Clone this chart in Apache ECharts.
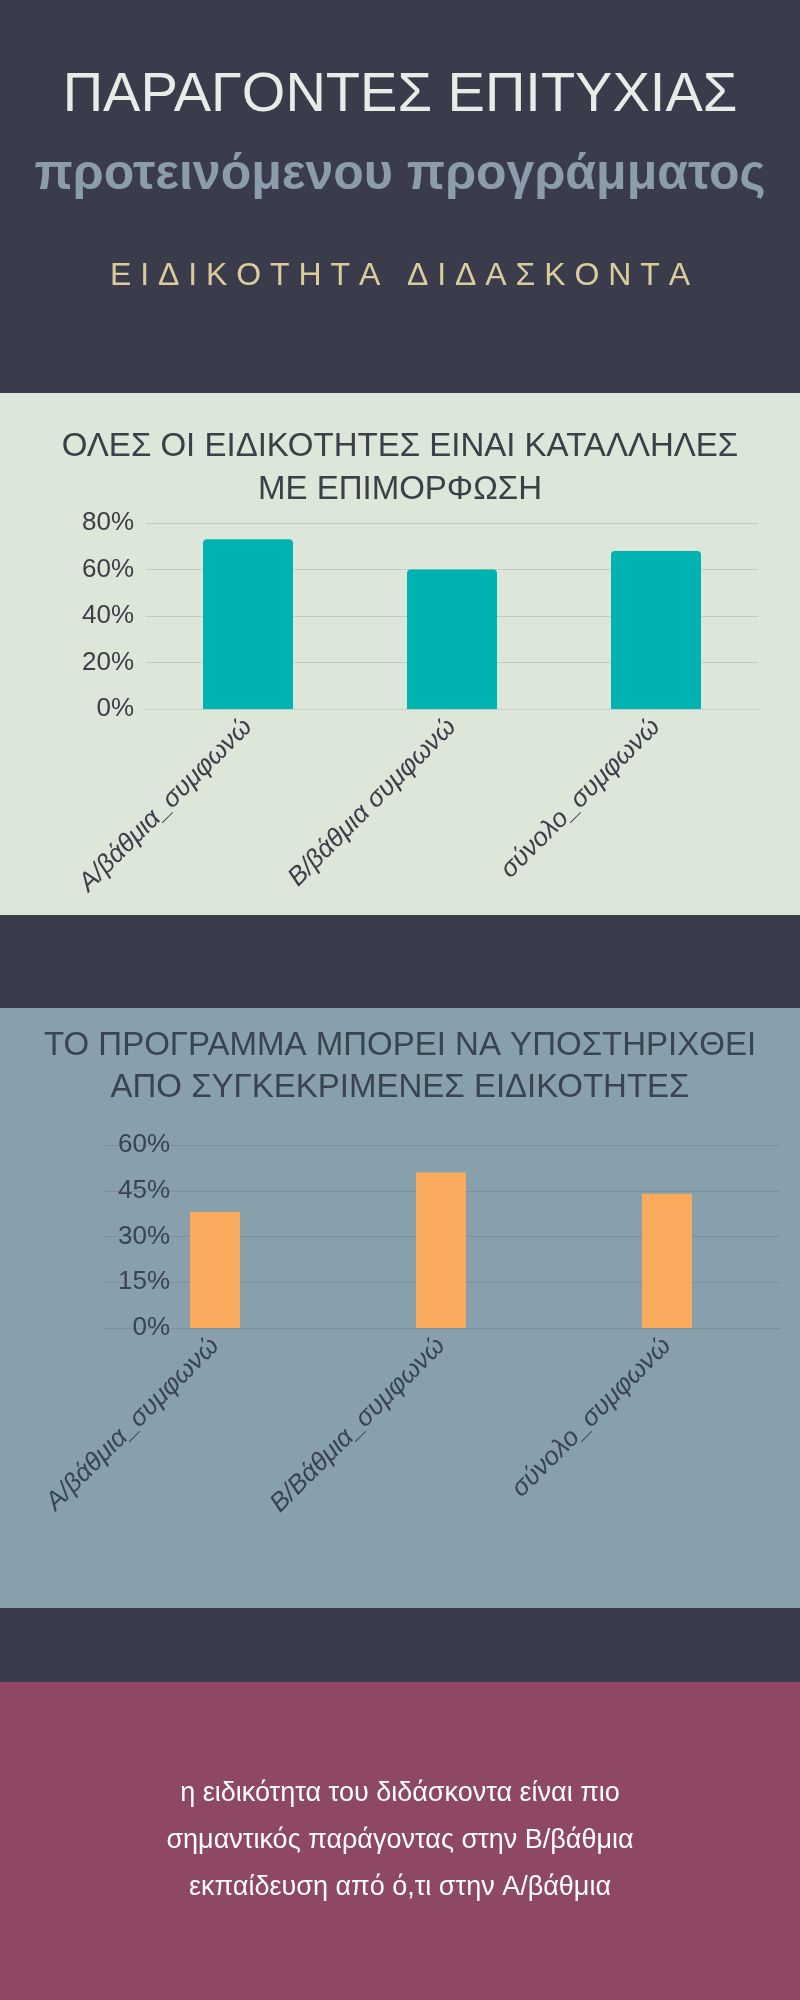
<!DOCTYPE html>
<html>
<head>
<meta charset="utf-8">
<script src="https://cdn.jsdelivr.net/npm/echarts@6/dist/echarts.min.js"></script>
<style>
  html, body { margin: 0; padding: 0; background: #3a3c4c; }
  #main { width: 800px; height: 2000px; }
</style>
</head>
<body>
<div id="main"></div>
<script>
const categories1 = ['Α/βάθμια_συμφωνώ', 'Β/βάθμια συμφωνώ', 'σύνολο_συμφωνώ']
const values1 = [73, 60, 68]
const categories2 = ['Α/βάθμια_συμφωνώ', 'Β/Βάθμια_συμφωνώ', 'σύνολο_συμφωνώ']
const values2 = [38, 51, 44]

const font = 'Liberation Sans, Arial, sans-serif'
const myChart = echarts.init(document.getElementById('main'))

const axisLabelStyle = {
    color: '#3a3f48',
    fontSize: 26,
    fontFamily: font
}

// centred text block helper
function centred(y, text, style) {
    return { type: 'text', x: 400, y: y, style: { text: text, align: 'center', verticalAlign: 'top', fontFamily: font, ...style } }
}

const option = {
    backgroundColor: '#3a3c4c',
    graphic: [
        { type: 'rect', shape: { x: 0, y: 393, width: 800, height: 522 }, style: { fill: '#dce6d9' }, z: -10 },
        { type: 'rect', shape: { x: 0, y: 1008, width: 800, height: 600 }, style: { fill: '#87a0ab' }, z: -10 },
        { type: 'rect', shape: { x: 0, y: 1682, width: 800, height: 318 }, style: { fill: '#8e4864' }, z: -10 },
        centred(68, 'ΠΑΡΑΓΟΝΤΕΣ ΕΠΙΤΥΧΙΑΣ', { fill: '#e8ebe6', fontSize: 56 }),
        centred(150, 'προτεινόμενου προγράμματος', { fill: '#8b9caa', fontSize: 50, fontWeight: 'bold' }),
        centred(260, 'Ε Ι Δ Ι Κ Ο Τ Η Τ Α   Δ Ι Δ Α Σ Κ Ο Ν Τ Α', { fill: '#dccb9c', fontSize: 32 }),
        centred(425, 'ΟΛΕΣ ΟΙ ΕΙΔΙΚΟΤΗΤΕΣ ΕΙΝΑΙ ΚΑΤΑΛΛΗΛΕΣ\nΜΕ ΕΠΙΜΟΡΦΩΣΗ', { fill: '#3a4048', fontSize: 33, lineHeight: 43 }),
        centred(1025, 'ΤΟ ΠΡΟΓΡΑΜΜΑ ΜΠΟΡΕΙ ΝΑ ΥΠΟΣΤΗΡΙΧΘΕΙ\nΑΠΟ ΣΥΓΚΕΚΡΙΜΕΝΕΣ ΕΙΔΙΚΟΤΗΤΕΣ', { fill: '#3a4450', fontSize: 33, lineHeight: 42 }),
        centred(1770, 'η ειδικότητα του διδάσκοντα είναι πιο\nσημαντικός παράγοντας στην Β/βάθμια\nεκπαίδευση από ό,τι στην Α/βάθμια', { fill: '#ffffff', fontSize: 27, lineHeight: 47 })
    ],
    grid: [
        { left: 146, width: 612, top: 523, height: 186 },
        { left: 102, width: 678, top: 1145, height: 183 }
    ],
    xAxis: [
        {
            type: 'category', gridIndex: 0, data: categories1,
            axisLine: { lineStyle: { color: '#c8cfc6' } },
            axisTick: { show: false },
            axisLabel: { ...axisLabelStyle, rotate: 45, fontStyle: 'italic', margin: 14 }
        },
        {
            type: 'category', gridIndex: 1, data: categories2,
            axisLine: { lineStyle: { color: '#7a929d' } },
            axisTick: { show: false },
            axisLabel: { ...axisLabelStyle, rotate: 45, fontStyle: 'italic', margin: 14, color: '#3a4450' }
        }
    ],
    yAxis: [
        {
            type: 'value', gridIndex: 0, min: 0, max: 80, interval: 20,
            axisLine: { show: false }, axisTick: { show: false },
            splitLine: { lineStyle: { color: '#c3cbc1' } },
            axisLabel: { ...axisLabelStyle, margin: 12, formatter: '{value}%' }
        },
        {
            type: 'value', gridIndex: 1, min: 0, max: 60, interval: 15,
            axisLine: { show: false }, axisTick: { show: false },
            splitLine: { lineStyle: { color: '#7a929d' } },
            axisLabel: { ...axisLabelStyle, color: '#3a4450', margin: -68, formatter: '{value}%' }
        }
    ],
    series: [
        {
            type: 'bar', xAxisIndex: 0, yAxisIndex: 0, data: values1,
            barWidth: 90, itemStyle: { color: '#00b3b3', borderRadius: [4, 4, 0, 0] }
        },
        {
            type: 'bar', xAxisIndex: 1, yAxisIndex: 1, data: values2,
            barWidth: 50, itemStyle: { color: '#f9aa5c' }
        }
    ]
}

myChart.setOption(option)
</script>
</body>
</html>
